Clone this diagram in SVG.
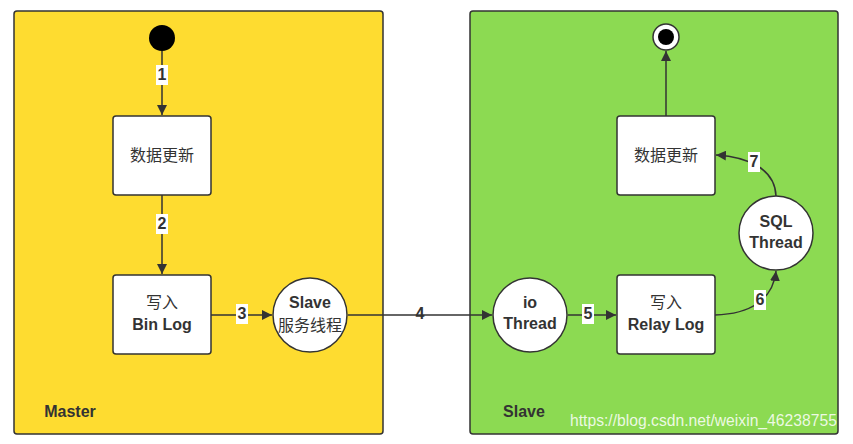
<svg xmlns="http://www.w3.org/2000/svg" width="853" height="444" viewBox="0 0 853 444">
<defs>
<marker id="arr" viewBox="0 0 10 10" refX="10" refY="5" markerWidth="10" markerHeight="10" markerUnits="userSpaceOnUse" orient="auto">
<path d="M0,0 L10,5 L0,10 z" fill="#333"/>
</marker>
<style>
.lane{stroke:#333;stroke-width:1.5}
.box{fill:#fff;stroke:#333;stroke-width:1.5}
.t{font-family:"Liberation Sans","Noto Sans CJK SC",sans-serif;font-size:16px;font-weight:bold;fill:#333;text-anchor:middle}
.c{font-family:"Noto Sans CJK SC",sans-serif;font-size:16px;fill:#333;text-anchor:middle}
.edge{fill:none;stroke:#333;stroke-width:1.5}
.lbl{font-family:"Liberation Sans",sans-serif;font-size:16px;font-weight:bold;fill:#333;text-anchor:middle}
.lb{fill:#fff}
</style>
</defs>
<rect width="853" height="444" fill="#fff"/>
<g id="master">
<rect class="lane" x="14" y="11" width="369" height="423" rx="3" fill="#fedc30"/>
<text class="t" x="70" y="417">Master</text>
</g>
<g id="slave">
<rect class="lane" x="470" y="11" width="368" height="423" rx="3" fill="#8cda52"/>
<text class="t" x="524" y="417">Slave</text>
</g>
<g id="connectors">
<line class="edge" x1="162" y1="51" x2="162" y2="115" marker-end="url(#arr)"/>
<line class="edge" x1="162" y1="195" x2="162" y2="274" marker-end="url(#arr)"/>
<line class="edge" x1="211" y1="315" x2="272" y2="315" marker-end="url(#arr)"/>
<line class="edge" x1="348" y1="315" x2="492" y2="315" marker-end="url(#arr)"/>
<line class="edge" x1="568" y1="315" x2="616" y2="315" marker-end="url(#arr)"/>
<path class="edge" d="M715,315 C750,314 773,300 776,271" marker-end="url(#arr)"/>
<path class="edge" d="M776,196 C775,170 750,157 716,155" marker-end="url(#arr)"/>
<line class="edge" x1="666" y1="116" x2="666" y2="51" marker-end="url(#arr)"/>
<rect class="lb" x="156" y="65" width="12" height="20"/>
<text class="lbl" x="162" y="80">1</text>
<rect class="lb" x="156" y="214" width="12" height="20"/>
<text class="lbl" x="162" y="229">2</text>
<rect class="lb" x="236" y="304" width="12" height="20"/>
<text class="lbl" x="242" y="319">3</text>
<text class="lbl" x="420" y="319">4</text>
<rect class="lb" x="582" y="304" width="12" height="20"/>
<text class="lbl" x="588" y="319">5</text>
<rect class="lb" x="754" y="290" width="12" height="20"/>
<text class="lbl" x="760" y="305">6</text>
<rect class="lb" x="748" y="152" width="12" height="20"/>
<text class="lbl" x="754" y="167">7</text>
</g>
<g id="start"><circle cx="162" cy="38" r="13" fill="#000"/></g>
<g id="master-update">
<rect class="box" x="113" y="116" width="98" height="79" rx="3"/>
<text class="c" x="162" y="161">数据更新</text>
</g>
<g id="binlog">
<rect class="box" x="113" y="275" width="98" height="79" rx="3"/>
<text class="c" x="162" y="308">写入</text>
<text class="t" x="162" y="330">Bin Log</text>
</g>
<g id="slave-thread">
<circle class="box" cx="310" cy="315" r="37"/>
<text class="t" x="310" y="308">Slave</text>
<text class="c" x="310" y="331">服务线程</text>
</g>
<g id="io-thread">
<circle class="box" cx="530" cy="315" r="37"/>
<text class="t" x="530" y="308">io</text>
<text class="t" x="530" y="329">Thread</text>
</g>
<g id="relaylog">
<rect class="box" x="617" y="275" width="98" height="79" rx="3"/>
<text class="c" x="666" y="308">写入</text>
<text class="t" x="666" y="330">Relay Log</text>
</g>
<g id="sql-thread">
<circle class="box" cx="776" cy="233" r="37"/>
<text class="t" x="776" y="227">SQL</text>
<text class="t" x="776" y="248">Thread</text>
</g>
<g id="slave-update">
<rect class="box" x="617" y="116" width="98" height="79" rx="3"/>
<text class="c" x="666" y="161">数据更新</text>
</g>
<g id="end">
<circle cx="666" cy="37" r="13" fill="#fff" stroke="#333" stroke-width="1.5"/>
<circle cx="666" cy="37" r="8" fill="#000"/>
</g>
<text x="570" y="426" font-family="Liberation Sans,sans-serif" font-size="15.7" fill="#fff" fill-opacity="0.85">https://blog.csdn.net/weixin_46238755</text>
</svg>
